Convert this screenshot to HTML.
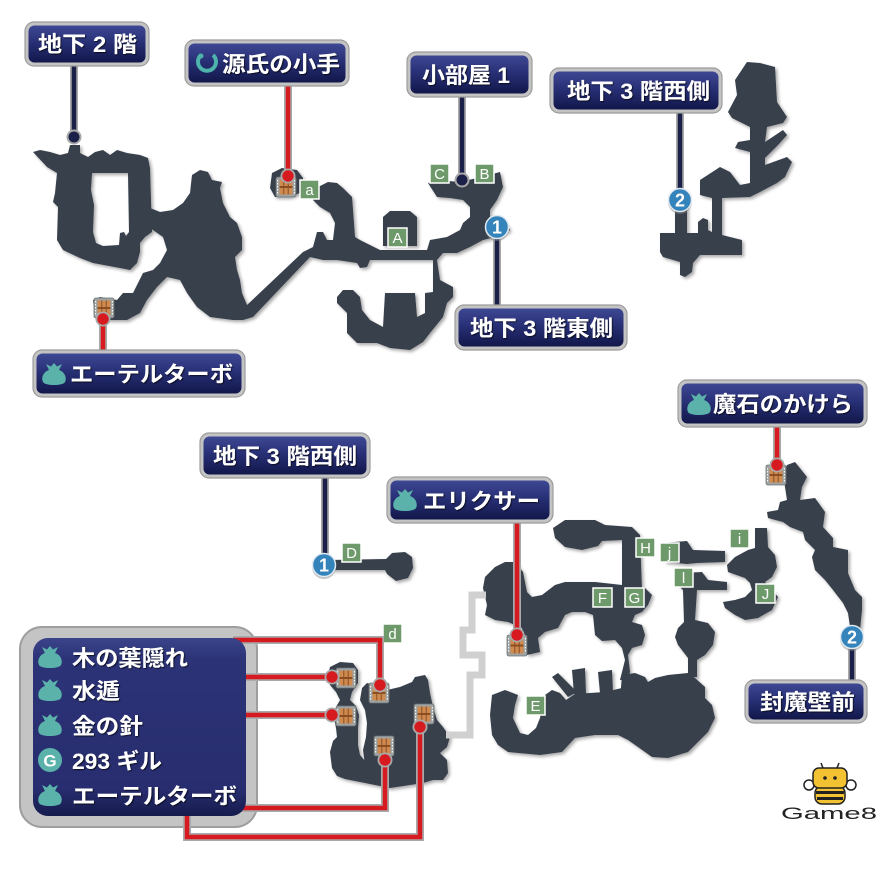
<!DOCTYPE html>
<html><head><meta charset="utf-8"><style>
html,body{margin:0;padding:0;background:#fff;width:880px;height:880px;overflow:hidden}
svg{display:block}
.lt{fill:#fff;font-size:22px;font-weight:bold;font-family:"Liberation Sans","Noto Sans CJK JP",sans-serif}
.lb{fill:#fff;font-size:15px;font-family:"Liberation Sans","Noto Sans CJK JP",sans-serif;text-anchor:middle}
.ob{fill:#c3c3c3;stroke:#9c9c9c;stroke-width:1.2}
.gl{fill:none;stroke:#a9a9a9;stroke-width:8}
.rl{fill:none;stroke:#d71a1f;stroke-width:4.5}
.nl{fill:none;stroke:#1b2048;stroke-width:4.5}
</style></head><body>
<svg width="880" height="880" viewBox="0 0 880 880" xmlns="http://www.w3.org/2000/svg">
<defs>
<linearGradient id="nv" x1="0" y1="0" x2="0" y2="1">
<stop offset="0" stop-color="#3e4893"/><stop offset="0.45" stop-color="#283076"/><stop offset="1" stop-color="#12174a"/>
</linearGradient>
<linearGradient id="nv2" x1="0" y1="0" x2="0" y2="1">
<stop offset="0" stop-color="#3b448a"/><stop offset="0.12" stop-color="#2c3377"/><stop offset="0.85" stop-color="#272d6e"/><stop offset="1" stop-color="#161b4d"/>
</linearGradient>
<filter id="sh" x="-10%" y="-10%" width="120%" height="120%"><feDropShadow dx="2" dy="2" stdDeviation="1.5" flood-color="#000" flood-opacity="0.35"/></filter>
<filter id="ts" x="-5%" y="-20%" width="110%" height="140%"><feDropShadow dx="1" dy="1" stdDeviation="0.6" flood-color="#000" flood-opacity="0.7"/></filter>
</defs>

<!-- caves -->
<g fill="#383f4b" filter="url(#sh)">
<path fill-rule="evenodd" d="M33,152 L40,150 L50,152 L60,155 L68,153 L70,145 L80,145 L80,153 L88,157 L95,152 L103,150 L110,155 L117,150 L127,153 L140,155 L148,158 L150,168 L152,232 L145,237 L140,243 L140,252 L137,263 L130,270 L120,268 L93,263 L80,258 L63,250 L57,240 L58,207 L53,202 L55,193 L57,173 L47,167 Z M92,173 L128,173 L129,232 L126,236 L124,232 L120,233 L119,245 L103,246 L96,243 L93,232 L94,205 L91,190 Z"/>
<polygon points="150,208 160,212 173,210 183,203 190,193 192,175 200,170 208,172 212,180 222,182 220,188 223,203 230,217 237,223 242,237 242,250 235,257 237,270 240,280 242,293 247,305 303,252 313,247 317,232 323,232 327,240 333,240 335,223 330,213 320,207 313,200 313,192 318,187 328,182 337,183 343,188 352,197 353,210 355,237 360,240 370,245 380,250 427,250 430,240 447,237 460,230 463,223 470,217 470,207 463,200 450,198 437,197 428,183 437,180 460,182 477,178 500,172 503,187 497,200 490,210 490,218 505,222 510,230 500,236 483,240 470,247 457,253 443,253 437,260 440,280 453,287 453,297 447,303 443,317 430,333 423,342 410,350 390,348 377,343 357,343 347,333 347,313 337,303 337,297 343,290 353,290 360,297 362,310 370,320 383,327 385,293 415,293 417,317 425,313 425,293 433,292 433,260 370,260 367,267 360,268 357,263 337,260 323,260 310,257 253,317 243,320 233,320 210,317 197,307 187,293 180,280 167,277 157,287 147,300 140,313 127,320 110,320 95,317 93,300 100,297 117,300 123,293 133,293 143,273 153,270 160,263 167,250 163,237 153,230 150,228"/>
<polygon points="383,217 390,211 410,211 417,217 417,246 383,246"/>
<polygon points="272,173 282,168 297,170 303,178 302,192 290,197 275,197 270,188"/>
<polygon points="747,62 760,63 775,67 777,102 787,117 783,123 767,127 765,142 783,130 787,135 778,145 765,158 765,165 787,157 792,162 785,177 777,183 760,192 750,197 722,198 722,235 730,237 742,240 742,255 700,255 693,263 692,272 685,277 680,275 680,262 663,257 660,252 660,233 675,233 675,205 687,205 687,233 698,233 698,222 703,218 708,220 708,230 712,232 712,198 700,195 700,180 720,167 730,172 740,185 750,183 750,152 735,148 738,142 750,140 750,127 732,118 728,112 737,95 735,80"/>
<path d="M330,560 L386,559 L392,553 L405,552 L412,557 L413,568 L408,578 L396,581 L387,574 L385,570 L330,570 Z"/>
<polygon points="330,667 340,662 353,663 358,670 358,683 352,692 350,700 356,706 359,715 358,728 358,745 360,755 366,762 380,765 390,788 365,783 345,779 337,776 332,768 330,752 333,741 337,737 336,728 334,718 336,707 340,700 336,692 330,685 328,675"/>
<polygon points="362,688 367,683 380,687 387,690 400,687 412,682 415,677 425,675 428,680 430,693 433,707 437,720 443,727 450,737 447,747 440,753 447,760 448,773 443,780 433,780 423,783 410,785 390,788 377,783 368,775 365,765 363,750 366,737 367,723 365,710 360,700"/>
<polygon points="553,528 565,520 595,520 605,525 632,527 640,535 642,590 622,590 622,540 602,541 598,546 582,550 565,547 555,538"/>
<polygon points="485,577 495,567 505,562 515,562 523,572 527,592 532,597 542,595 555,585 565,582 595,582 622,585 645,588 652,595 648,605 642,612 635,615 632,622 642,625 645,635 642,645 632,648 628,655 630,672 628,680 620,680 622,672 625,660 622,648 615,640 602,641 595,635 593,615 585,612 572,612 565,615 558,628 545,632 538,638 540,652 527,655 522,628 508,622 495,620 485,615 487,605 483,588"/>
<polygon points="622,675 635,673 645,677 648,682 655,678 668,675 688,673 695,678 705,687 705,698 712,705 715,718 708,732 702,738 688,752 668,758 652,757 638,747 628,740 618,735 620,700"/>
<polygon points="492,695 505,690 518,695 515,705 513,718 520,733 528,735 536,728 540,718 542,705 545,695 552,690 560,693 566,700 575,694 590,693 605,692 622,688 625,735 618,735 595,735 575,738 562,752 540,755 508,752 498,745 492,735 490,715"/>
<polygon points="552,677 558,673 577,692 568,697"/>
<polygon points="572,670 585,668 586,694 574,694"/>
<polygon points="598,672 612,670 613,693 600,693"/>
<polygon points="682,573 702,572 708,580 727,582 727,590 697,590 695,620 708,623 715,632 713,645 705,655 697,660 697,677 688,677 688,658 678,645 675,637 678,628 684,622 683,590 678,585"/>
<polygon points="662,543 687,541 693,550 725,551 725,562 697,563 687,564 665,562"/>
<polygon points="755,528 767,528 768,547 775,555 777,567 772,577 765,582 772,590 778,597 772,610 758,618 745,620 735,615 725,608 723,602 735,600 745,597 752,590 750,583 745,578 728,572 727,565 735,557 748,550 755,548"/>
<polygon points="787,465 795,462 807,477 802,487 800,500 815,498 825,512 823,527 833,538 833,547 848,550 848,573 855,590 862,597 862,610 860,630 852,637 850,627 848,613 843,603 833,590 825,580 815,570 812,557 815,550 805,540 803,532 790,527 783,522 768,518 767,512 778,510 780,502 787,500 785,487 783,473"/>
</g>

<!-- gray path -->
<polyline points="486,595 472,595 472,630 463,630 463,655 482,655 482,675 470,675 470,735 446,735" fill="none" stroke="#d0d0d0" stroke-width="7"/>

<!-- letter labels -->
<g>
<g fill="#6e9a6b" stroke="#fff" stroke-width="1.5">
<rect x="300" y="180" width="19" height="19"/><rect x="388" y="228" width="19" height="19"/>
<rect x="430" y="164" width="19" height="19"/><rect x="475" y="164" width="19" height="19"/>
<rect x="342" y="543" width="19" height="19"/><rect x="383" y="624" width="19" height="19"/>
<rect x="526" y="696" width="19" height="19"/><rect x="593" y="588" width="19" height="19"/>
<rect x="625" y="588" width="19" height="19"/><rect x="636" y="538" width="19" height="19"/>
<rect x="660" y="543" width="19" height="19"/><rect x="674" y="568" width="19" height="19"/>
<rect x="730" y="529" width="19" height="19"/><rect x="756" y="584" width="19" height="19"/>
</g>
<text class="lb" x="309.5" y="195">a</text><text class="lb" x="397.5" y="243">A</text>
<text class="lb" x="439.5" y="179">C</text><text class="lb" x="484.5" y="179">B</text>
<text class="lb" x="351.5" y="558">D</text><text class="lb" x="392.5" y="639">d</text>
<text class="lb" x="535.5" y="711">E</text><text class="lb" x="602.5" y="603">F</text>
<text class="lb" x="634.5" y="603">G</text><text class="lb" x="645.5" y="553">H</text>
<text class="lb" x="669.5" y="558">j</text><text class="lb" x="683.5" y="583">l</text>
<text class="lb" x="739.5" y="544">i</text><text class="lb" x="765.5" y="599">J</text>
</g>

<!-- chests -->
<g>
<g transform="translate(276,177)"><rect width="20" height="20" rx="2" fill="#9ea3a3" stroke="#6d7272" stroke-width="0.8"/><rect x="3.5" y="2.5" width="13" height="15" fill="#cf8a50"/><path d="M7.8 2.5v15M12.2 2.5v15" stroke="#8b4d22"/><rect x="3.5" y="9" width="13" height="2" fill="#8b4d22"/><path d="M1.6 3v14M18.4 3v14" stroke="#fff" stroke-dasharray="1.5 1.5"/></g>
<g transform="translate(94,298)"><rect width="20" height="20" rx="2" fill="#9ea3a3" stroke="#6d7272" stroke-width="0.8"/><rect x="3.5" y="2.5" width="13" height="15" fill="#cf8a50"/><path d="M7.8 2.5v15M12.2 2.5v15" stroke="#8b4d22"/><rect x="3.5" y="9" width="13" height="2" fill="#8b4d22"/><path d="M1.6 3v14M18.4 3v14" stroke="#fff" stroke-dasharray="1.5 1.5"/></g>
<g transform="translate(766,465)"><rect width="20" height="20" rx="2" fill="#9ea3a3" stroke="#6d7272" stroke-width="0.8"/><rect x="3.5" y="2.5" width="13" height="15" fill="#cf8a50"/><path d="M7.8 2.5v15M12.2 2.5v15" stroke="#8b4d22"/><rect x="3.5" y="9" width="13" height="2" fill="#8b4d22"/><path d="M1.6 3v14M18.4 3v14" stroke="#fff" stroke-dasharray="1.5 1.5"/></g>
<g transform="translate(507,635)"><rect width="20" height="21" rx="2" fill="#9ea3a3" stroke="#6d7272" stroke-width="0.8"/><rect x="3.5" y="2.5" width="13" height="16" fill="#cf8a50"/><path d="M7.8 2.5v16M12.2 2.5v16" stroke="#8b4d22"/><rect x="3.5" y="9.5" width="13" height="2" fill="#8b4d22"/><path d="M1.6 3v15M18.4 3v15" stroke="#fff" stroke-dasharray="1.5 1.5"/></g>
<g transform="translate(336,668)"><rect width="20" height="20" rx="2" fill="#9ea3a3" stroke="#6d7272" stroke-width="0.8"/><rect x="3.5" y="2.5" width="13" height="15" fill="#cf8a50"/><path d="M7.8 2.5v15M12.2 2.5v15" stroke="#8b4d22"/><rect x="3.5" y="9" width="13" height="2" fill="#8b4d22"/><path d="M1.6 3v14M18.4 3v14" stroke="#fff" stroke-dasharray="1.5 1.5"/></g>
<g transform="translate(336,706)"><rect width="20" height="20" rx="2" fill="#9ea3a3" stroke="#6d7272" stroke-width="0.8"/><rect x="3.5" y="2.5" width="13" height="15" fill="#cf8a50"/><path d="M7.8 2.5v15M12.2 2.5v15" stroke="#8b4d22"/><rect x="3.5" y="9" width="13" height="2" fill="#8b4d22"/><path d="M1.6 3v14M18.4 3v14" stroke="#fff" stroke-dasharray="1.5 1.5"/></g>
<g transform="translate(369,683)"><rect width="20" height="20" rx="2" fill="#9ea3a3" stroke="#6d7272" stroke-width="0.8"/><rect x="3.5" y="2.5" width="13" height="15" fill="#cf8a50"/><path d="M7.8 2.5v15M12.2 2.5v15" stroke="#8b4d22"/><rect x="3.5" y="9" width="13" height="2" fill="#8b4d22"/><path d="M1.6 3v14M18.4 3v14" stroke="#fff" stroke-dasharray="1.5 1.5"/></g>
<g transform="translate(374,736)"><rect width="20" height="20" rx="2" fill="#9ea3a3" stroke="#6d7272" stroke-width="0.8"/><rect x="3.5" y="2.5" width="13" height="15" fill="#cf8a50"/><path d="M7.8 2.5v15M12.2 2.5v15" stroke="#8b4d22"/><rect x="3.5" y="9" width="13" height="2" fill="#8b4d22"/><path d="M1.6 3v14M18.4 3v14" stroke="#fff" stroke-dasharray="1.5 1.5"/></g>
<g transform="translate(414,704)"><rect width="20" height="20" rx="2" fill="#9ea3a3" stroke="#6d7272" stroke-width="0.8"/><rect x="3.5" y="2.5" width="13" height="15" fill="#cf8a50"/><path d="M7.8 2.5v15M12.2 2.5v15" stroke="#8b4d22"/><rect x="3.5" y="9" width="13" height="2" fill="#8b4d22"/><path d="M1.6 3v14M18.4 3v14" stroke="#fff" stroke-dasharray="1.5 1.5"/></g>
</g>

<!-- connectors (single labels) -->
<g>
<path class="gl" d="M74,64 V137"/><path class="nl" d="M74,64 V137"/>
<path class="gl" d="M288,84 V176"/><path class="rl" d="M288,84 V176"/>
<path class="gl" d="M462,95 V180"/><path class="nl" d="M462,95 V180"/>
<path class="gl" d="M680,111 V200"/><path class="nl" d="M680,111 V200"/>
<path class="gl" d="M497,227 V307"/><path class="nl" d="M497,227 V307"/>
<path class="gl" d="M103,319 V352"/><path class="rl" d="M103,319 V352"/>
<path class="gl" d="M325,476 V565"/><path class="nl" d="M325,476 V565"/>
<path class="gl" d="M517,521 V635"/><path class="rl" d="M517,521 V635"/>
<path class="gl" d="M777,425 V465"/><path class="rl" d="M777,425 V465"/>
<path class="gl" d="M852,637 V682"/><path class="nl" d="M852,637 V682"/>
</g>

<!-- big list box outer -->
<rect x="20" y="627" width="237" height="200" rx="22" fill="#c4c4c4" stroke="#9e9e9e" stroke-width="2"/>
<g>
<path class="gl" d="M233,640 H380 V685"/><path class="rl" d="M233,640 H380 V685"/>
<path class="gl" d="M240,677 H332"/><path class="rl" d="M240,677 H332"/>
<path class="gl" d="M240,715 H332"/><path class="rl" d="M240,715 H332"/>
<path class="gl" d="M240,808 H385 V760"/><path class="rl" d="M240,808 H385 V760"/>
<path class="gl" d="M187,810 V837 H420 V727"/><path class="rl" d="M187,810 V837 H420 V727"/>
</g>
<rect x="33" y="638" width="213" height="178" rx="15" fill="url(#nv2)"/>

<!-- dots -->
<g>
<circle cx="74" cy="137" r="7.5" fill="#a9a9a9"/><circle cx="74" cy="137" r="5.5" fill="#1b2048"/>
<circle cx="462" cy="180" r="7.5" fill="#a9a9a9"/><circle cx="462" cy="180" r="5.5" fill="#1b2048"/>
<g fill="#a9a9a9">
<circle cx="288" cy="176" r="7.5"/><circle cx="103" cy="319" r="7.5"/><circle cx="517" cy="635" r="7.5"/><circle cx="777" cy="465" r="7.5"/>
<circle cx="380" cy="685" r="7.5"/><circle cx="332" cy="677" r="7.5"/><circle cx="332" cy="715" r="7.5"/><circle cx="385" cy="760" r="7.5"/><circle cx="420" cy="727" r="7.5"/>
</g>
<g fill="#d71a1f">
<circle cx="288" cy="176" r="5.7"/><circle cx="103" cy="319" r="5.7"/><circle cx="517" cy="635" r="5.7"/><circle cx="777" cy="465" r="5.7"/>
<circle cx="380" cy="685" r="5.7"/><circle cx="332" cy="677" r="5.7"/><circle cx="332" cy="715" r="5.7"/><circle cx="385" cy="760" r="5.7"/><circle cx="420" cy="727" r="5.7"/>
</g>
</g>

<!-- number circles -->
<g font-family="Liberation Sans, sans-serif" font-weight="bold" font-size="18" text-anchor="middle" fill="#fff">
<circle cx="497" cy="229" r="12" fill="#888" opacity="0.5"/><circle cx="497" cy="227" r="11.5" fill="#3483ba" stroke="#dfe9f1" stroke-width="1.5"/><text x="497" y="233.5">1</text>
<circle cx="680" cy="202" r="12" fill="#888" opacity="0.5"/><circle cx="680" cy="200" r="11.5" fill="#3483ba" stroke="#dfe9f1" stroke-width="1.5"/><text x="680" y="206.5">2</text>
<circle cx="324" cy="567" r="12" fill="#888" opacity="0.5"/><circle cx="324" cy="565" r="11.5" fill="#3483ba" stroke="#dfe9f1" stroke-width="1.5"/><text x="324" y="571.5">1</text>
<circle cx="852" cy="639" r="12" fill="#888" opacity="0.5"/><circle cx="852" cy="637" r="11.5" fill="#3483ba" stroke="#dfe9f1" stroke-width="1.5"/><text x="852" y="643.5">2</text>
</g>

<!-- label boxes -->
<g>
<rect class="ob" x="25" y="22" width="124" height="44" rx="9"/><rect x="28.5" y="25.5" width="117" height="37" rx="6" fill="url(#nv)"/>
<rect class="ob" x="185" y="40" width="164" height="46" rx="9"/><rect x="188.5" y="43.5" width="157" height="39" rx="6" fill="url(#nv)"/>
<rect class="ob" x="407" y="52" width="125" height="45" rx="9"/><rect x="410.5" y="55.5" width="118" height="38" rx="6" fill="url(#nv)"/>
<rect class="ob" x="550" y="68" width="172" height="45" rx="9"/><rect x="553.5" y="71.5" width="165" height="38" rx="6" fill="url(#nv)"/>
<rect class="ob" x="455" y="305" width="172" height="45" rx="9"/><rect x="458.5" y="308.5" width="165" height="38" rx="6" fill="url(#nv)"/>
<rect class="ob" x="33" y="350" width="212" height="47" rx="9"/><rect x="36.5" y="353.5" width="205" height="40" rx="6" fill="url(#nv)"/>
<rect class="ob" x="200" y="433" width="170" height="45" rx="9"/><rect x="203.5" y="436.5" width="163" height="38" rx="6" fill="url(#nv)"/>
<rect class="ob" x="387" y="477" width="166" height="46" rx="9"/><rect x="390.5" y="480.5" width="159" height="39" rx="6" fill="url(#nv)"/>
<rect class="ob" x="678" y="380" width="189" height="47" rx="9"/><rect x="681.5" y="383.5" width="182" height="40" rx="6" fill="url(#nv)"/>
<rect class="ob" x="745" y="680" width="122" height="43" rx="9"/><rect x="748.5" y="683.5" width="115" height="36" rx="6" fill="url(#nv)"/>
</g>

<!-- icons -->
<g fill="#5bb2ab">
<path transform="translate(54,375)" d="M-5,-5 L-8,-11 L-3,-8.5 L0,-12 L3,-8.5 L8,-11 L5,-5 C11,-3 13,3 11,7 C9,11 -9,11 -11,7 C-13,3 -11,-3 -5,-5Z"/>
<path transform="translate(405,501)" d="M-5,-5 L-8,-11 L-3,-8.5 L0,-12 L3,-8.5 L8,-11 L5,-5 C11,-3 13,3 11,7 C9,11 -9,11 -11,7 C-13,3 -11,-3 -5,-5Z"/>
<path transform="translate(699,405)" d="M-5,-5 L-8,-11 L-3,-8.5 L0,-12 L3,-8.5 L8,-11 L5,-5 C11,-3 13,3 11,7 C9,11 -9,11 -11,7 C-13,3 -11,-3 -5,-5Z"/>
<path transform="translate(50,658)" d="M-5,-5 L-8,-11 L-3,-8.5 L0,-12 L3,-8.5 L8,-11 L5,-5 C11,-3 13,3 11,7 C9,11 -9,11 -11,7 C-13,3 -11,-3 -5,-5Z"/>
<path transform="translate(50,691)" d="M-5,-5 L-8,-11 L-3,-8.5 L0,-12 L3,-8.5 L8,-11 L5,-5 C11,-3 13,3 11,7 C9,11 -9,11 -11,7 C-13,3 -11,-3 -5,-5Z"/>
<path transform="translate(50,726)" d="M-5,-5 L-8,-11 L-3,-8.5 L0,-12 L3,-8.5 L8,-11 L5,-5 C11,-3 13,3 11,7 C9,11 -9,11 -11,7 C-13,3 -11,-3 -5,-5Z"/>
<circle cx="50" cy="760" r="12"/>
<path transform="translate(50,796)" d="M-5,-5 L-8,-11 L-3,-8.5 L0,-12 L3,-8.5 L8,-11 L5,-5 C11,-3 13,3 11,7 C9,11 -9,11 -11,7 C-13,3 -11,-3 -5,-5Z"/>
</g>
<text x="50" y="766.5" font-family="Liberation Sans, sans-serif" font-weight="bold" font-size="17" fill="#fff" text-anchor="middle">G</text>
<path d="M201,55 A9,9 0 1 0 213,55" fill="none" stroke="#4db3ab" stroke-width="4"/>
<circle cx="201" cy="56" r="2.5" fill="#4db3ab"/>

<!-- label texts -->
<g filter="url(#ts)">
<text class="lt" x="38" y="52" textLength="99" lengthAdjust="spacingAndGlyphs">地下 2 階</text>
<text class="lt" x="222" y="72" textLength="118" lengthAdjust="spacingAndGlyphs">源氏の小手</text>
<text class="lt" x="422" y="83" textLength="88" lengthAdjust="spacingAndGlyphs">小部屋 1</text>
<text class="lt" x="567" y="99" textLength="143" lengthAdjust="spacingAndGlyphs">地下 3 階西側</text>
<text class="lt" x="470" y="336" textLength="143" lengthAdjust="spacingAndGlyphs">地下 3 階東側</text>
<text class="lt" x="70" y="382" textLength="163" lengthAdjust="spacingAndGlyphs">エーテルターボ</text>
<text class="lt" x="213" y="464" textLength="144" lengthAdjust="spacingAndGlyphs">地下 3 階西側</text>
<text class="lt" x="423" y="509" textLength="117" lengthAdjust="spacingAndGlyphs">エリクサー</text>
<text class="lt" x="713" y="412" textLength="140" lengthAdjust="spacingAndGlyphs">魔石のかけら</text>
<text class="lt" x="760" y="710" textLength="95" lengthAdjust="spacingAndGlyphs">封魔壁前</text>
<text class="lt" x="72" y="666" textLength="116" lengthAdjust="spacingAndGlyphs">木の葉隠れ</text>
<text class="lt" x="72" y="699" textLength="48" lengthAdjust="spacingAndGlyphs">水遁</text>
<text class="lt" x="72" y="734" textLength="71" lengthAdjust="spacingAndGlyphs">金の針</text>
<text class="lt" x="72" y="769" textLength="90" lengthAdjust="spacingAndGlyphs">293 ギル</text>
<text class="lt" x="72" y="804" textLength="165" lengthAdjust="spacingAndGlyphs">エーテルターボ</text>
</g>

<!-- Game8 logo -->
<g stroke="#222" stroke-width="1.5">
<path d="M823,768 L821,763 M837,768 L839,763" fill="none"/>
<ellipse cx="809" cy="785" rx="5" ry="5" fill="#fff"/>
<ellipse cx="851" cy="785" rx="5" ry="5" fill="#fff"/>
<rect x="815" y="786" width="30" height="18" rx="7" fill="#f2c233"/>
<rect x="813" y="768" width="34" height="20" rx="6" fill="#f2c233"/>
</g>
<rect x="816" y="791" width="28" height="3" fill="#222"/>
<rect x="817" y="797" width="26" height="3" fill="#222"/>
<circle cx="825" cy="778" r="1.8" fill="#222"/><circle cx="835" cy="778" r="1.8" fill="#222"/>
<text x="781" y="819" font-family="Liberation Sans, sans-serif" font-size="17" fill="#222" textLength="96" lengthAdjust="spacingAndGlyphs">Game8</text>
</svg>
</body></html>
